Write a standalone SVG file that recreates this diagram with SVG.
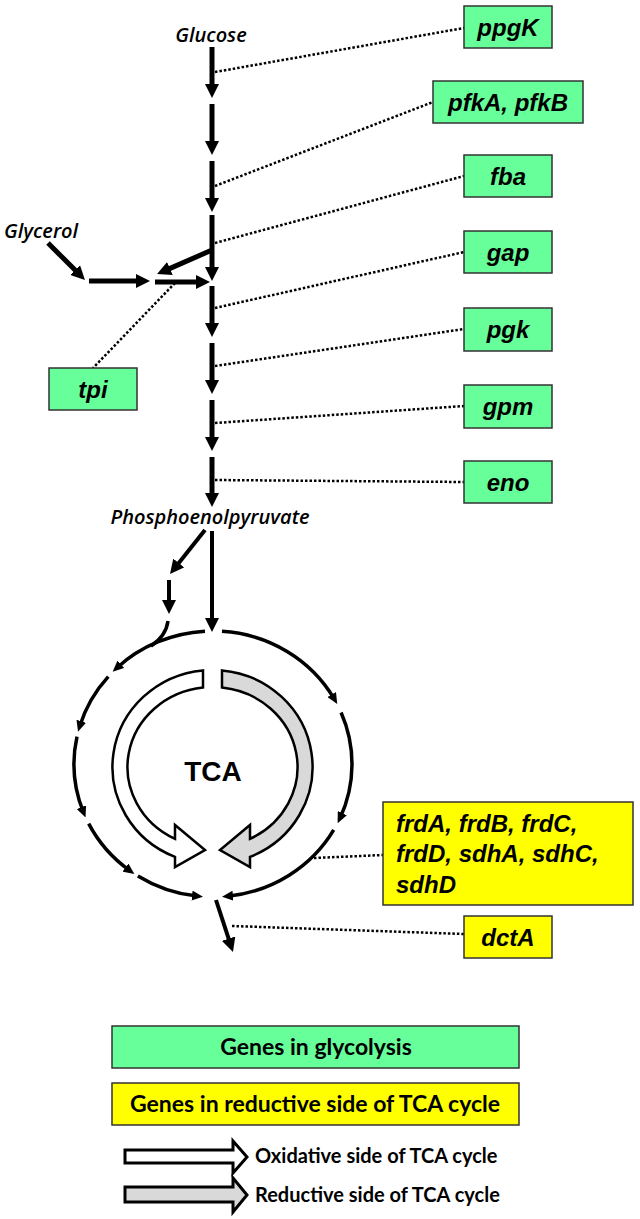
<svg xmlns="http://www.w3.org/2000/svg" width="640" height="1219" viewBox="0 0 640 1219">
<style>
.gbox{fill:#66ff99;stroke:#333;stroke-width:1.5}
.ybox{fill:#ffff00;stroke:#333;stroke-width:1.5}
.gene{font-family:"Liberation Sans",Arial,sans-serif;font-weight:bold;font-style:italic;font-size:24px;fill:#000}
.met{font-family:"Open Sans","Liberation Sans",sans-serif;font-weight:600;font-style:italic;font-size:20px;fill:#000}
.leg{font-family:Lato,"Liberation Sans",sans-serif;font-weight:bold;fill:#000}
.arr{fill:none;stroke:#000;stroke-width:5}
.arr4{fill:none;stroke:#000;stroke-width:4}
.ring{fill:none;stroke:#000;stroke-width:3.5}
.dot{fill:none;stroke:#000;stroke-width:2.5;stroke-dasharray:2.5 2}
.tca{stroke:#000;stroke-width:2.5;stroke-linejoin:miter}
</style>
<defs>
<marker id="ah" markerUnits="userSpaceOnUse" markerWidth="14" markerHeight="14" refX="6" refY="7" orient="auto"><path d="M0,0 L14,7 L0,14 z" fill="#000"/></marker>
<marker id="ahs" markerUnits="userSpaceOnUse" markerWidth="11" markerHeight="10" refX="5" refY="5" orient="auto"><path d="M0,0 L11,5 L0,10 z" fill="#000"/></marker>
</defs>
<rect width="640" height="1219" fill="#fff"/>

<g id="connectors">
<path class="arr" d="M212,47 L212,90" marker-end="url(#ah)"/>
<path class="arr" d="M212,104 L212,147" marker-end="url(#ah)"/>
<path class="arr" d="M212,161 L212,204" marker-end="url(#ah)"/>
<path class="arr" d="M212,215 L212,273" marker-end="url(#ah)"/>
<path class="arr" d="M212,286 L212,329" marker-end="url(#ah)"/>
<path class="arr" d="M212,343 L212,386" marker-end="url(#ah)"/>
<path class="arr" d="M212,400 L212,443" marker-end="url(#ah)"/>
<path class="arr" d="M212,457 L212,499" marker-end="url(#ah)"/>
<path class="arr" d="M212,250 L164.4,270.9" marker-end="url(#ah)"/>
<path class="arr" d="M48,243 L79.3,274.3" marker-end="url(#ah)"/>
<path class="arr" d="M89,281 L142,281" marker-end="url(#ah)"/>
<path class="arr" d="M155,282 L202,282" marker-end="url(#ah)"/>
<path class="arr4" d="M212,531 L212,624" marker-end="url(#ah)"/>
<path class="arr4" d="M205,530 L175,567.7" marker-end="url(#ah)"/>
<path class="arr4" d="M169,580 L169,606" marker-end="url(#ah)"/>
<path class="ring" d="M168,621 Q166,636 151,646"/>
<path class="ring" d="M205,631.2 A139,133 0 0,0 117.1,667.7" marker-end="url(#ahs)"/>
<path class="ring" d="M108.3,676.6 A139,133 0 0,0 79.8,726" marker-end="url(#ahs)"/>
<path class="ring" d="M77,736.6 A139,133 0 0,0 83.3,811.9" marker-end="url(#ahs)"/>
<path class="ring" d="M88.7,823.6 A139,133 0 0,0 129.5,870.4" marker-end="url(#ahs)"/>
<path class="ring" d="M137.9,875.9 A139,133 0 0,0 197,896.1" marker-end="url(#ahs)"/>
<path class="ring" d="M222,631.3 A139,133 0 0,1 334.2,698.9" marker-end="url(#ahs)"/>
<path class="ring" d="M341.1,712.5 A139,133 0 0,1 340.2,817.7" marker-end="url(#ahs)"/>
<path class="ring" d="M333.7,829.9 A139,133 0 0,1 228,896.2" marker-end="url(#ahs)"/>
<path class="arr4" d="M216,900 L230.5,944.4" marker-end="url(#ah)"/>
<path class="dot" d="M215,72 L464,28"/>
<path class="dot" d="M215,186 L433,102"/>
<path class="dot" d="M215,243 L464,176"/>
<path class="dot" d="M215,308 L464,252"/>
<path class="dot" d="M215,366 L464,329"/>
<path class="dot" d="M215,423 L464,406"/>
<path class="dot" d="M215,480 L464,482"/>
<path class="dot" d="M175,283 L93,368"/>
<path class="dot" d="M314,858 L383,855"/>
<path class="dot" d="M232,926 L464,934"/>
</g>

<g id="glucose"><text class="met" x="211" y="42" text-anchor="middle">Glucose</text></g>
<g id="glycerol"><text class="met" x="4" y="238">Glycerol</text></g>
<g id="pep"><text class="met" x="210" y="524" text-anchor="middle">Phosphoenolpyruvate</text></g>

<g id="ppgK"><rect class="gbox" x="464" y="6" width="88" height="42"/><text class="gene" x="508" y="36" text-anchor="middle">ppgK</text></g>
<g id="pfkA"><rect class="gbox" x="433" y="81" width="150" height="42"/><text class="gene" x="508" y="111" text-anchor="middle">pfkA, pfkB</text></g>
<g id="fba"><rect class="gbox" x="464" y="155" width="88" height="42"/><text class="gene" x="508" y="185" text-anchor="middle">fba</text></g>
<g id="gap"><rect class="gbox" x="464" y="231" width="88" height="42"/><text class="gene" x="508" y="261" text-anchor="middle">gap</text></g>
<g id="pgk"><rect class="gbox" x="464" y="308" width="88" height="43"/><text class="gene" x="508" y="338" text-anchor="middle">pgk</text></g>
<g id="gpm"><rect class="gbox" x="464" y="385" width="88" height="43"/><text class="gene" x="508" y="415" text-anchor="middle">gpm</text></g>
<g id="eno"><rect class="gbox" x="464" y="461" width="88" height="42"/><text class="gene" x="508" y="491" text-anchor="middle">eno</text></g>
<g id="tpi"><rect class="gbox" x="49" y="368" width="88" height="42"/><text class="gene" x="93" y="398" text-anchor="middle">tpi</text></g>

<g id="tca">
<path class="tca" fill="#fff" d="M203,670.4 A100,97 0 0,0 175,856.9 L175,867 L205,850 L175,825 L175,838.8 A85,80 0 0,1 203,687.5 Z"/>
<path class="tca" fill="#d9d9d9" d="M222,670.4 A100,97 0 0,1 250,856.9 L250,867 L220,850 L250,825 L250,838.8 A85,80 0 0,0 222,687.5 Z"/>
<text x="213" y="781" text-anchor="middle" font-family="Liberation Sans, Arial, sans-serif" font-weight="bold" font-size="28">TCA</text>
</g>

<g id="frd"><rect class="ybox" x="383" y="802" width="250" height="103"/>
<text class="gene" x="396" y="832" font-size="25">frdA, frdB, frdC,</text>
<text class="gene" x="396" y="862" font-size="25">frdD, sdhA, sdhC,</text>
<text class="gene" x="396" y="893" font-size="25">sdhD</text></g>
<g id="dctA"><rect class="ybox" x="464" y="916" width="88" height="42"/><text class="gene" x="508" y="946" text-anchor="middle">dctA</text></g>

<g id="legend">
<rect class="gbox" x="112" y="1026" width="407" height="42"/>
<text class="leg" x="316" y="1055" font-size="23" text-anchor="middle">Genes in glycolysis</text>
<rect class="ybox" x="112" y="1083" width="407" height="42"/>
<text class="leg" x="315" y="1112" font-size="23" text-anchor="middle">Genes in reductive side of TCA cycle</text>
<path fill="#fff" stroke="#000" stroke-width="3" d="M125,1150 L233,1150 L233,1141 L247,1157 L233,1173 L233,1163 L125,1163 Z"/>
<text class="leg" x="255" y="1163" font-size="20">Oxidative side of TCA cycle</text>
<path fill="#d9d9d9" stroke="#000" stroke-width="3" d="M125,1187 L233,1187 L233,1178 L247,1195 L233,1212 L233,1202 L125,1202 Z"/>
<text class="leg" x="255" y="1202" font-size="20">Reductive side of TCA cycle</text>
</g>
</svg>
